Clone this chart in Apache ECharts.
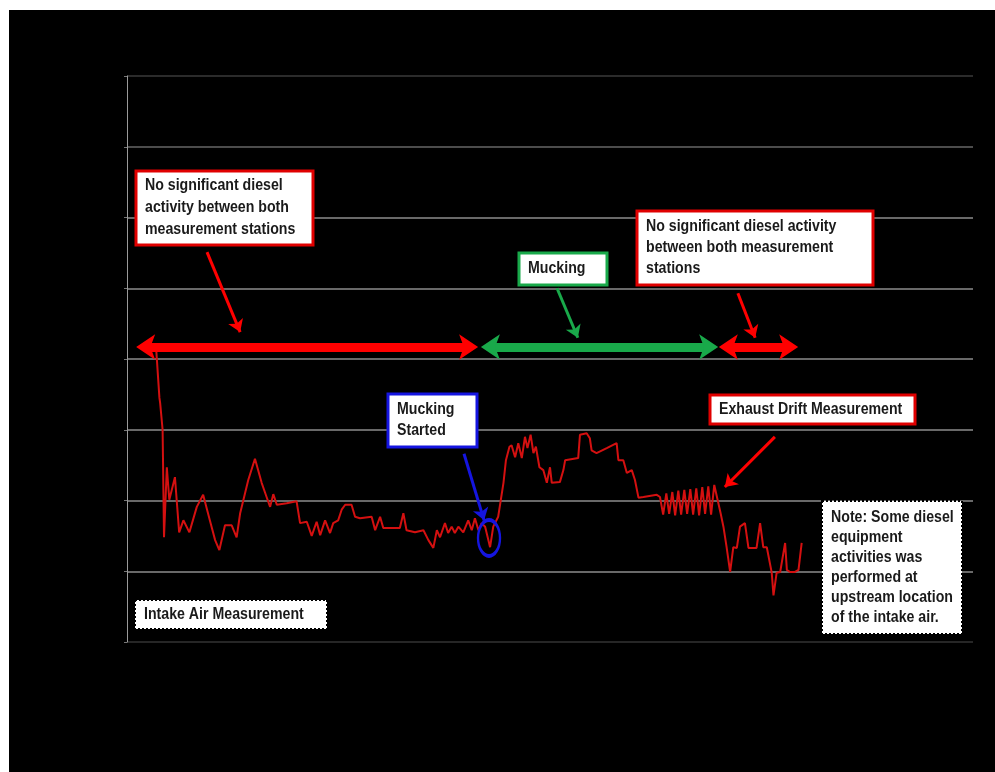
<!DOCTYPE html>
<html>
<head>
<meta charset="utf-8">
<script src="https://cdn.jsdelivr.net/npm/echarts@6/dist/echarts.min.js"></script>
<style>
  html, body { margin: 0; padding: 0; background: #fff; }
  #chart { position: absolute; left: 9px; top: 10px; width: 986px; height: 762px; }
</style>
</head>
<body>
<div id="chart"></div>
<script>
const timeX = [
  8.2, 9.2, 9.4, 10.1, 10.5, 11.3, 12.0, 13.6, 14.8, 16.0,
  17.7, 19.8, 21.6, 23.5, 25.0, 26.2, 27.8, 29.7, 31.1, 32.1,
  34.4, 36.3, 38.2, 39.6, 40.6, 41.5, 42.5, 45.3, 48.1, 49.1,
  51.0, 52.4, 53.8, 54.8, 56.2, 57.6, 58.5, 59.9, 60.9, 61.9,
  63.7, 64.7, 66.1, 69.4, 70.4, 71.8, 72.7, 77.4, 78.4, 79.3,
  81.7, 84.1, 85.5, 86.9, 87.9, 88.8, 90.2, 91.1, 92.1, 93.0,
  94.0, 95.4, 96.8, 97.8, 98.7, 99.7, 100.6, 101.6, 103.0, 103.9,
  105.3, 106.8, 107.5, 108.5, 109.1, 110.1, 111.0, 112.0, 112.9, 113.6,
  114.5, 115.3, 116.0, 117.0, 118.1, 119.1, 120.0, 120.5, 122.8, 123.8,
  124.3, 128.0, 128.5, 130.4, 131.3, 131.8, 133.2, 136.1, 138.9, 139.4,
  140.8, 141.8, 143.2, 144.1, 145.1, 146.5, 150.3, 151.2,
  152.1, 153.0, 153.8, 154.7, 155.5, 156.4, 157.2, 158.1, 158.9, 159.8,
  160.6, 161.5, 162.3, 163.2, 164.0, 164.9, 165.7, 166.6,
  168.4, 169.2, 170.1, 171.1, 172.0, 173.0, 173.9, 175.3, 176.3, 178.6,
  179.6, 180.5, 181.5, 182.9, 183.4, 184.3, 185.3, 186.7, 187.2, 188.1,
  189.5, 190.5, 191.4
];
const conc = [
  4.20, 3.45, 3.38, 3.00, 1.48, 2.47, 2.01, 2.33, 1.55, 1.72,
  1.55, 1.91, 2.08, 1.72, 1.44, 1.30, 1.65, 1.65, 1.48, 1.82,
  2.29, 2.59, 2.25, 2.05, 1.91, 2.09, 1.94, 1.96, 1.99, 1.68,
  1.70, 1.50, 1.70, 1.51, 1.72, 1.54, 1.68, 1.72, 1.87, 1.94,
  1.94, 1.77, 1.75, 1.77, 1.58, 1.77, 1.61, 1.61, 1.82, 1.58,
  1.55, 1.58, 1.44, 1.33, 1.58, 1.48, 1.68, 1.54, 1.63, 1.54,
  1.63, 1.55, 1.72, 1.58, 1.75, 1.58, 1.68, 1.63, 1.34, 1.63,
  1.77, 2.25, 2.57, 2.76, 2.78, 2.61, 2.81, 2.60, 2.90, 2.74,
  2.93, 2.67, 2.76, 2.47, 2.43, 2.25, 2.47, 2.25, 2.26, 2.43,
  2.57, 2.60, 2.93, 2.95, 2.88, 2.71, 2.67, 2.74, 2.81, 2.57,
  2.57, 2.39, 2.43, 2.29, 2.04, 2.05, 2.08, 2.05,
  1.80, 2.10, 1.81, 2.12, 1.79, 2.14, 1.80, 2.15, 1.81, 2.16,
  1.80, 2.17, 1.79, 2.19, 1.81, 2.20, 1.80, 2.22,
  1.82, 1.63, 1.34, 0.99, 1.34, 1.33, 1.63, 1.68, 1.33, 1.33,
  1.68, 1.34, 1.34, 0.98, 0.66, 0.98, 0.99, 1.40, 1.02, 0.99,
  0.99, 1.02, 1.40
];

// activity periods: [tip start, tip end, colour]
const periods = [
  [2.6, 99.6, '#ff0000'],
  [100.4, 167.7, '#19a94a'],
  [167.9, 190.4, '#ff0000']
];
const periodLevel = 4.17;
const headInset = 3.2;

// pointer arrows: [x1, y1, tip x, tip y, colour]
const pointers = [
  [22.7, 5.51, 32.1, 4.38, '#ff0000'],
  [122.0, 5.00, 127.9, 4.30, '#19a94a'],
  [173.3, 4.93, 178.2, 4.30, '#ff0000'],
  [95.6, 2.66, 101.3, 1.72, '#1515e0'],
  [183.8, 2.90, 169.6, 2.19, '#ff0000']
];

const chart = echarts.init(document.getElementById('chart'));
const font = '"Liberation Sans", Arial, sans-serif';

function box(x, y, w, h, stroke, lines, lineH, dotted) {
  return {
    type: 'group',
    children: [
      {
        type: 'rect',
        z: 50,
        shape: { x: x, y: y, width: w, height: h },
        style: {
          fill: '#fff',
          stroke: stroke,
          lineWidth: dotted ? 2 : 3,
          lineDash: dotted ? [2, 2] : null
        }
      },
      {
        type: 'text',
        z: 51,
        x: x + 9,
        y: y + (h - lines.length * lineH) / 2,
        scaleX: 0.885,
        style: {
          x: 0, y: 0,
          text: lines.join('\n'),
          font: 'bold 16px ' + font,
          lineHeight: lineH,
          fill: '#1a1a1a',
          verticalAlign: 'top'
        }
      }
    ]
  };
}

const markLines = [];
periods.forEach(p => {
  markLines.push([
    { coord: [p[0] + headInset, periodLevel], symbol: 'none', lineStyle: { color: p[2], width: 9, type: 'solid' } },
    { coord: [p[1] - headInset, periodLevel], symbol: 'none' }
  ]);
  markLines.push([
    { coord: [p[0], periodLevel], symbol: 'arrow', symbolSize: 19, lineStyle: { color: p[2], width: 0, type: 'solid' } },
    { coord: [p[1], periodLevel], symbol: 'arrow', symbolSize: 19 }
  ]);
});
pointers.forEach(p => {
  markLines.push([
    { coord: [p[0], p[1]], symbol: 'none', lineStyle: { color: p[4], width: 3, type: 'solid' } },
    { coord: [p[2], p[3]], symbol: 'arrow', symbolSize: 12 }
  ]);
});

chart.setOption({
  backgroundColor: '#000',
  animation: false,
  grid: { left: 118, right: 22, top: 66, bottom: 130 },
  xAxis: {
    type: 'value', min: 0, max: 240,
    axisLine: { show: false }, axisTick: { show: false },
    axisLabel: { show: false }, splitLine: { show: false }
  },
  yAxis: {
    type: 'value', min: 0, max: 8, interval: 1,
    axisLine: { show: true, lineStyle: { color: '#9a9a9a', width: 1 } },
    axisTick: { show: true, length: 3, lineStyle: { color: '#777' } },
    axisLabel: { show: false },
    splitLine: {
      lineStyle: {
        width: 1.5,
        color: ['#333', '#8c8c8c', '#8c8c8c', '#8c8c8c', '#8c8c8c', '#8c8c8c', '#8c8c8c', '#666', '#3a3a3a']
      }
    }
  },
  series: [{
    type: 'line',
    data: timeX.map((t, i) => [t, conc[i]]),
    showSymbol: false,
    lineStyle: { color: '#d41010', width: 2 },
    silent: true,
    markLine: {
      silent: true,
      label: { show: false },
      data: markLines
    },
    markPoint: {
      silent: true,
      symbol: 'circle',
      symbolSize: [22, 36],
      label: { show: false },
      itemStyle: { color: 'rgba(0,0,0,0)', borderColor: '#1515e0', borderWidth: 3 },
      data: [{ coord: [102.7, 1.47] }]
    }
  }],
  graphic: [
    box(127, 161, 177, 74, '#e00000',
      ['No significant diesel', 'activity between both', 'measurement stations'], 22),
    box(510, 243, 88, 32, '#19a94a', ['Mucking'], 20),
    box(628, 201, 236, 74, '#e00000',
      ['No significant diesel activity', 'between both measurement', 'stations'], 21),
    box(379, 384, 89, 53, '#1515e0', ['Mucking', 'Started'], 21),
    box(701, 385, 205, 29, '#e00000', ['Exhaust Drift Measurement'], 20),
    box(813, 491, 140, 133, '#000',
      ['Note: Some diesel', 'equipment', 'activities was', 'performed at',
       'upstream location', 'of the intake air.'], 20, true),
    box(126, 590, 192, 29, '#000', ['Intake Air Measurement'], 20, true)
  ]
});
</script>
</body>
</html>
